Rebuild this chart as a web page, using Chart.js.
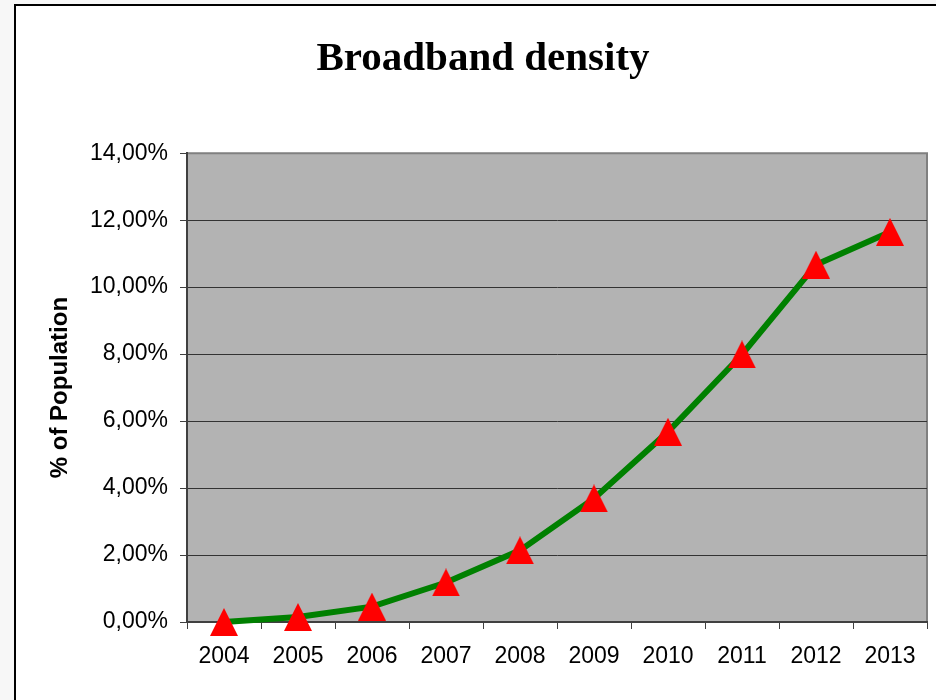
<!DOCTYPE html>
<html>
<head>
<meta charset="utf-8">
<script src="https://cdn.jsdelivr.net/npm/chart.js@4.4.0/dist/chart.umd.min.js"></script>
<style>
  html, body { margin: 0; padding: 0; background: #f7f7f7; overflow: hidden; }
  #frame {
    position: absolute; left: 14px; top: 4px; width: 940px; height: 720px;
    background: #fff; border-left: 2px solid #000; border-top: 2px solid #000;
  }
  /* canvas a bit wider than the window: the original plot runs to the right edge */
  #wrap { position: absolute; left: 0; top: 0; width: 947px; height: 700px; }
</style>
</head>
<body>
<div id="frame"></div>
<div id="wrap"><canvas id="densityChart" width="947" height="700"></canvas></div>
<script>
// chart data
const years = ['2004', '2005', '2006', '2007', '2008', '2009', '2010', '2011', '2012', '2013'];
const density = [0, 0.15, 0.46, 1.18, 2.14, 3.69, 5.68, 7.99, 10.67, 11.65];
const yTicks = [0, 2, 4, 6, 8, 10, 12, 14];

// red triangle marker, centred on the point like the Excel one
function makeTriangle() {
    const c = document.createElement('canvas');
    c.width = 28;
    c.height = 28;
    const g = c.getContext('2d');
    g.fillStyle = '#ff0000';
    g.beginPath();
    g.moveTo(14, 0);
    g.lineTo(28, 28);
    g.lineTo(0, 28);
    g.closePath();
    g.fill();
    return c;
}

// grey plot area with border
const plotBackground = {
    id: 'plotBackground',
    beforeDraw(chart) {
        const { ctx, chartArea: a } = chart;
        ctx.save();
        ctx.fillStyle = '#b3b3b3';
        ctx.fillRect(a.left, a.top, a.right - a.left, a.bottom - a.top);
        ctx.strokeStyle = '#808080';
        ctx.lineWidth = 2;
        ctx.beginPath();
        ctx.moveTo(a.left, a.top);
        ctx.lineTo(a.right, a.top);
        ctx.lineTo(a.right, a.bottom);
        ctx.stroke();
        ctx.restore();
    }
};

const ctx = document.getElementById('densityChart').getContext('2d');
new Chart(ctx, {
    type: 'line',
    data: {
        labels: years,
        datasets: [{
            label: 'Broadband density',
            data: density,
            borderColor: '#008000',
            borderWidth: 6,
            tension: 0,
            clip: false,
            pointStyle: makeTriangle(),
            pointRadius: 14,
            pointHoverRadius: 14
        }]
    },
    options: {
        responsive: false,
        animation: false,
        // left padding moves the title centre right, like the original
        layout: { padding: { left: 19, right: 0, top: 0, bottom: 0 } },
        plugins: {
            legend: { display: false },
            tooltip: { enabled: false },
            title: {
                display: true,
                text: 'Broadband density',
                color: '#000',
                font: { family: 'Liberation Serif', size: 41, weight: 'bold' },
                padding: { top: 35, bottom: 69 }
            }
        },
        scales: {
            x: {
                offset: true,
                grid: {
                    offset: true,
                    drawOnChartArea: false,
                    drawTicks: true,
                    tickLength: 7,
                    color: '#404040'
                },
                border: { color: '#404040', width: 2 },
                ticks: {
                    color: '#000',
                    padding: 14,
                    font: { family: 'Liberation Sans', size: 23 }
                },
                afterFit: s => { s.height = 78; }
            },
            y: {
                min: 0,
                max: 14,
                afterBuildTicks: s => { s.ticks = yTicks.map(v => ({ value: v })); },
                grid: {
                    color: c => (c.tick && c.tick.value === 14 ? '#808080' : '#333333'),
                    tickLength: 7,
                    tickColor: '#404040'
                },
                border: { color: '#404040', width: 2 },
                ticks: {
                    color: '#000',
                    padding: 12,
                    font: { family: 'Liberation Sans', size: 23 },
                    callback: v => v.toFixed(2).replace('.', ',') + '%'
                },
                title: {
                    display: true,
                    text: '% of Population',
                    color: '#000',
                    font: { family: 'Liberation Sans', size: 24, weight: 'bold' },
                    padding: { top: 27, bottom: 0 }
                },
                afterFit: s => { s.width = 168; }
            }
        }
    },
    plugins: [plotBackground]
});
</script>
</body>
</html>
